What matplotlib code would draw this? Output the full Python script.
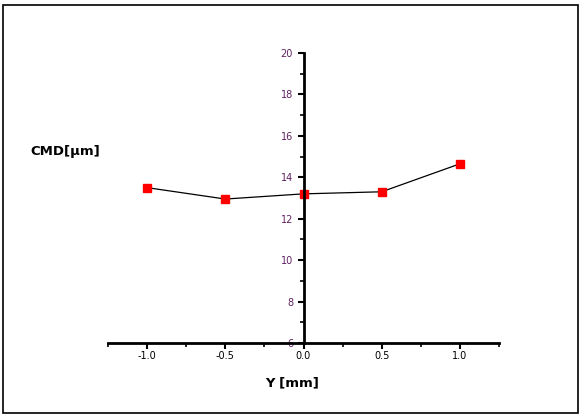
import matplotlib.pyplot as plt
from matplotlib.patches import Rectangle
from matplotlib.ticker import MultipleLocator

y_pos = [-1.0, -0.5, 0.0, 0.5, 1.0]
cmd = [13.5, 12.95, 13.2, 13.3, 14.65]

fig = plt.figure(figsize=(5.82, 4.17), dpi=100)
W, H = 582, 417

# outer frame
fig.patches.append(Rectangle((3 / W, 1 - 413 / H), 575 / W, 408 / H,
                             transform=fig.transFigure, fill=False,
                             edgecolor="black", linewidth=1.2))

# axes: x -1.25..1.25 -> px 108..499, y 6..20 -> px 343..53
ax = fig.add_axes([108 / W, 1 - 343 / H, 391 / W, 290 / H])
ax.set_xlim(-1.25, 1.25)
ax.set_ylim(6, 20)

ax.plot(y_pos, cmd, color="black", linewidth=0.9, marker="s",
        markersize=6, markerfacecolor="red", markeredgecolor="red")

for s in ["top", "right"]:
    ax.spines[s].set_visible(False)
ax.spines["left"].set_position(("data", 0))
ax.spines["left"].set_linewidth(2)
ax.spines["bottom"].set_linewidth(2)

ax.xaxis.set_major_locator(MultipleLocator(0.5))
ax.xaxis.set_minor_locator(MultipleLocator(0.25))
ax.yaxis.set_major_locator(MultipleLocator(2))
ax.yaxis.set_minor_locator(MultipleLocator(1))
ax.set_xticks([-1.0, -0.5, 0.0, 0.5, 1.0])
ax.set_xticklabels(["-1.0", "-0.5", "0.0", "0.5", "1.0"])
ax.tick_params(axis="both", which="major", direction="out", length=4,
               width=1.5, labelsize=7, colors="black")
ax.tick_params(axis="both", which="minor", direction="out", length=3,
               width=1.2)
ax.tick_params(axis="y", labelcolor="#602060")
ax.tick_params(axis="x", pad=2)

fig.text(292 / W, 1 - 383 / H, "Y [mm]", fontsize=9.5, fontweight="bold",
         ha="center", va="center")
fig.text(30 / W, 1 - 151 / H, "CMD[\u00b5m]", fontsize=9.5,
         fontweight="bold", ha="left", va="center")

fig.savefig("out.png", dpi=100)
